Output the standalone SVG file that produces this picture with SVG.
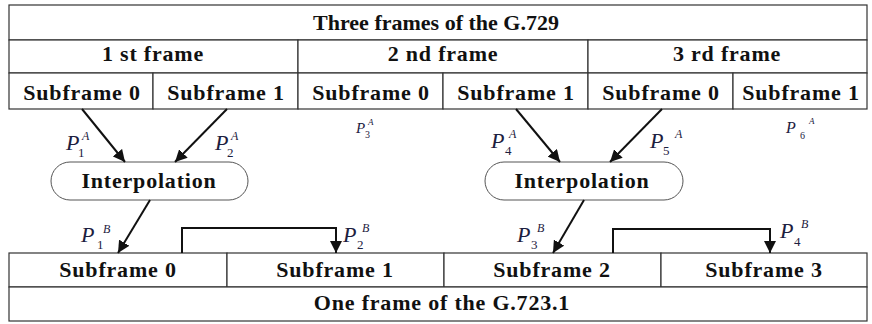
<svg xmlns="http://www.w3.org/2000/svg" width="872" height="324" viewBox="0 0 872 324">
<defs>
<style>
.cell{fill:#fff;stroke:#333;stroke-width:1.2}
.t{font-family:"Liberation Serif","Times New Roman",serif;font-weight:bold;font-size:22px;fill:#111;text-anchor:middle;letter-spacing:0.8px}
.ip{fill:#fff;stroke:#555;stroke-width:1}
.arr{stroke:#111;stroke-width:2;fill:none;marker-end:url(#ah)}
.P{font-family:"Liberation Serif","Times New Roman",serif;font-style:italic;fill:#1c2040}
.s{font-family:"Liberation Serif","Times New Roman",serif;fill:#1c2040}
</style>
<marker id="ah" viewBox="0 0 10 10" refX="10" refY="5" markerWidth="12" markerHeight="12" markerUnits="userSpaceOnUse" orient="auto">
<path d="M0,0 L10,5 L0,10 z" fill="#111"/>
</marker>
</defs>
<rect width="872" height="324" fill="#fff"/>

<g id="top-table">
<rect class="cell" x="9" y="5" width="858" height="35"/>
<text class="t" x="436" y="30" style="letter-spacing:0">Three frames of the G.729</text>
<rect class="cell" x="9" y="40" width="289" height="33"/>
<rect class="cell" x="298" y="40" width="290" height="33"/>
<rect class="cell" x="588" y="40" width="279" height="33"/>
<text class="t" x="153" y="61">1 st frame</text>
<text class="t" x="443" y="61">2 nd frame</text>
<text class="t" x="727" y="61">3 rd frame</text>
<rect class="cell" x="9" y="73" width="144" height="36"/>
<rect class="cell" x="153" y="73" width="145" height="36"/>
<rect class="cell" x="298" y="73" width="145" height="36"/>
<rect class="cell" x="443" y="73" width="145" height="36"/>
<rect class="cell" x="588" y="73" width="145" height="36"/>
<rect class="cell" x="733" y="73" width="134" height="36"/>
<text class="t" x="82" y="100">Subframe 0</text>
<text class="t" x="226" y="100">Subframe 1</text>
<text class="t" x="371" y="100">Subframe 0</text>
<text class="t" x="516" y="100">Subframe 1</text>
<text class="t" x="661" y="100">Subframe 0</text>
<text class="t" x="801" y="100">Subframe 1</text>
</g>

<g id="interp1">
<rect class="ip" x="51" y="162" width="197" height="38" rx="19" ry="19"/>
<text class="t" x="149" y="188">Interpolation</text>
</g>
<g id="interp2">
<rect class="ip" x="485" y="162" width="198" height="38" rx="19" ry="19"/>
<text class="t" x="582" y="188">Interpolation</text>
</g>

<g id="bottom-table">
<rect class="cell" x="9" y="253" width="218" height="34"/>
<rect class="cell" x="227" y="253" width="217" height="34"/>
<rect class="cell" x="444" y="253" width="217" height="34"/>
<rect class="cell" x="661" y="253" width="206" height="34"/>
<text class="t" x="118" y="277">Subframe 0</text>
<text class="t" x="335" y="277">Subframe 1</text>
<text class="t" x="552" y="277">Subframe 2</text>
<text class="t" x="764" y="277">Subframe 3</text>
<rect class="cell" x="9" y="287" width="858" height="34"/>
<text class="t" x="442" y="310">One frame of the G.723.1</text>
</g>

<g id="connectors">
<line class="arr" x1="82" y1="109" x2="125" y2="162"/>
<line class="arr" x1="227" y1="109" x2="175" y2="162"/>
<line class="arr" x1="150" y1="200" x2="118" y2="253"/>
<polyline class="arr" points="182,253 182,228 336,228 336,253"/>
<line class="arr" x1="516" y1="109" x2="560" y2="162"/>
<line class="arr" x1="662" y1="109" x2="610" y2="162"/>
<line class="arr" x1="584" y1="200" x2="553" y2="253"/>
<polyline class="arr" points="613,253 613,229 770,229 770,253"/>
</g>

<g id="labels">
<text class="P" x="66" y="150" font-size="22">P</text><text class="s" x="78" y="157" font-size="13">1</text><text class="P" x="82" y="140" font-size="12">A</text>
<text class="P" x="215" y="150" font-size="22">P</text><text class="s" x="227" y="157" font-size="13">2</text><text class="P" x="231" y="140" font-size="12">A</text>
<text class="P" x="356" y="133" font-size="15">P</text><text class="s" x="365" y="138" font-size="10">3</text><text class="P" x="368" y="125" font-size="9">A</text>
<text class="P" x="491" y="148" font-size="22">P</text><text class="s" x="505" y="155" font-size="13">4</text><text class="P" x="509" y="138" font-size="12">A</text>
<text class="P" x="650" y="148" font-size="22">P</text><text class="s" x="663" y="155" font-size="13">5</text><text class="P" x="675" y="138" font-size="12">A</text>
<text class="P" x="786" y="133" font-size="16">P</text><text class="s" x="800" y="139" font-size="10">6</text><text class="P" x="809" y="124" font-size="9">A</text>
<text class="P" x="81" y="242" font-size="22">P</text><text class="s" x="97" y="249" font-size="13">1</text><text class="P" x="103" y="233" font-size="12">B</text>
<text class="P" x="343" y="242" font-size="22">P</text><text class="s" x="357" y="249" font-size="13">2</text><text class="P" x="362" y="232" font-size="12">B</text>
<text class="P" x="517" y="242" font-size="22">P</text><text class="s" x="531" y="249" font-size="13">3</text><text class="P" x="537" y="232" font-size="12">B</text>
<text class="P" x="780" y="238" font-size="22">P</text><text class="s" x="794" y="246" font-size="13">4</text><text class="P" x="801" y="228" font-size="12">B</text>
</g>
</svg>
